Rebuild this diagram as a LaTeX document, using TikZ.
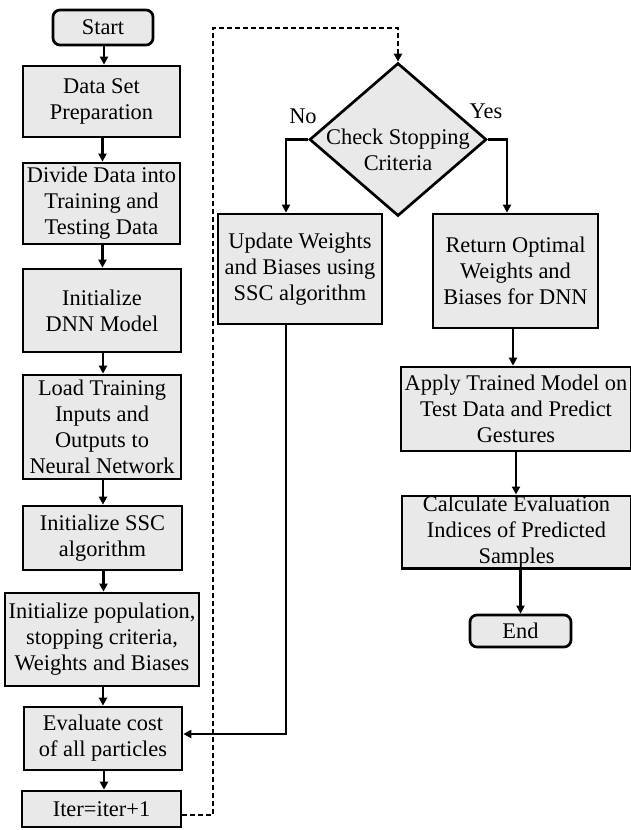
\documentclass[tikz,border=0pt]{standalone}
\usepackage{fontspec}
\setmainfont{Liberation Serif}
\usetikzlibrary{shapes.geometric,arrows.meta}
\definecolor{boxfill}{RGB}{233,233,233}
\begin{document}
\begin{tikzpicture}[x=1pt,y=-1pt,
  every node/.style={font=\fontsize{22.4}{26}\selectfont, align=center, inner sep=0pt},
  proc/.style={draw, line width=2.7pt, fill=boxfill, rectangle},
  term/.style={proc, rounded corners=7pt},
  decision/.style={draw, line width=2.7pt, fill=boxfill, diamond},
  flow/.style={line width=2.3pt, -{Triangle[length=8pt,width=8pt]}},
  loopback/.style={flow, dash pattern=on 5pt off 3pt}
]
\useasboundingbox (0,0) rectangle (630,830);

% left column: preparation and training loop
\node[term, minimum width=100pt, minimum height=35pt] (start) at (103,27.5) {Start};
\node[proc, minimum width=157pt, minimum height=71pt] (dsp) at (101.5,101.5) {Data Set\\Preparation};
\node[proc, minimum width=157pt, minimum height=81pt] (div) at (101.5,203.5) {Divide Data into\\Training and\\Testing Data};
\node[proc, minimum width=158pt, minimum height=83pt] (dnn) at (102,310.5) {Initialize\\DNN Model};
\node[proc, minimum width=158pt, minimum height=104pt] (load) at (102,427) {Load Training\\Inputs and\\Outputs to\\Neural Network};
\node[proc, minimum width=159pt, minimum height=64pt] (ssc) at (102.5,538) {Initialize SSC\\algorithm};
\node[proc, minimum width=194pt, minimum height=93pt] (pop) at (102,639.5) {Initialize population,\\stopping criteria,\\Weights and Biases};
\node[proc, minimum width=158pt, minimum height=63pt] (eval) at (103,738.5) {Evaluate cost\\of all particles};
\node[proc, minimum width=159pt, minimum height=36pt] (iter) at (101.5,809) {Iter=iter+1};

% decision and right branches
\node[decision, minimum width=177pt, minimum height=153pt] (chk) at (398,139.5) {};
\node (chkt) at ([yshift=-10pt]chk.center) {Check Stopping\\Criteria};
\node (no) at (303,116) {No};
\node (yes) at (486,111) {Yes};

\node[proc, minimum width=164pt, minimum height=110pt] (upd) at (300,269) {Update Weights\\and Biases using\\SSC algorithm};
\node[proc, minimum width=165pt, minimum height=114pt] (ret) at (515.5,271) {Return Optimal\\Weights and\\Biases for DNN};
\node[proc, minimum width=230pt, minimum height=84pt] (app) at (516,409) {Apply Trained Model on\\Test Data and Predict\\Gestures};
\node[proc, minimum width=229pt, minimum height=72pt] (calc) at (516.5,532) {Calculate Evaluation\\Indices of Predicted\\Samples};
\node[term, minimum width=101pt, minimum height=32pt] (end) at (520.5,631) {End};

% connectors of the left column
\foreach \a/\b in {start/dsp, dsp/div, div/dnn, dnn/load, load/ssc, ssc/pop, pop/eval, eval/iter}
  \draw[flow] ([xshift=1pt]\a.south) -- ([xshift=1pt]\a.south |- \b.north);

% loop back to the stopping check
\coordinate (ltop) at (213,28);
\draw[loopback] ([yshift=-6pt]iter.east) -| (ltop) -| (chk.north);

% decision outcomes
\draw[flow] (chk.west) -| ([xshift=-14pt]upd.north);
\draw[flow] (chk.east) -| ([xshift=-8.5pt]ret.north);
\draw[flow] ([xshift=-14pt]upd.south) |- ([yshift=4.5pt]eval.east);

% final evaluation chain
\draw[flow] ([xshift=-2.5pt]ret.south) -- ([xshift=-2.5pt]ret.south |- app.north);
\draw[flow] (app.south) -- (app.south |- calc.north);
\draw[flow] (end.north |- calc.south) -- (end.north);
\end{tikzpicture}
\end{document}
